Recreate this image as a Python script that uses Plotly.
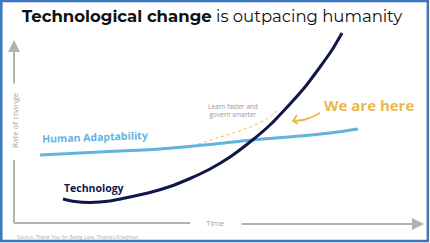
import plotly.graph_objects as go

H = 243
# Technology curve (x = time, y = rate of change)
tech_x = [63, 75, 90, 110, 130, 150, 170, 190, 210, 230, 250, 270, 290, 305, 320, 332, 342]
tech_y = [44, 41.5, 40.5, 42, 46, 50.5, 56.5, 64.5, 74, 86, 101, 118, 139, 156, 176, 193, 210]
# Human adaptability
human_x = [40, 100, 160, 215, 252, 300, 330, 358]
human_y = [88, 91, 94, 99, 103, 107, 110, 114]
# Learn faster and govern smarter (dashed)
learn_x = [198, 220, 245, 265, 277]
learn_y = [99, 106, 114, 123, 132]
# "We are here" pointer
ptr_x = [320, 312, 303, 293]
ptr_y = [130, 126, 123, 122]

NAVY = "#0f1648"
BLUE = "#62b4df"
GOLD = "#ebb84b"
GRAY = "#b3b3b3"
FONT = "Open Sans"

fig = go.Figure()
fig.add_trace(go.Scatter(x=human_x, y=human_y, mode="lines", line=dict(color=BLUE, width=3, shape="spline"), hoverinfo="skip"))
fig.add_trace(go.Scatter(x=learn_x, y=learn_y, mode="lines", line=dict(color=GOLD, width=1, dash="dot", shape="spline"), hoverinfo="skip"))
fig.add_trace(go.Scatter(x=tech_x, y=tech_y, mode="lines", line=dict(color=NAVY, width=3, shape="spline", smoothing=0.8), hoverinfo="skip"))
fig.add_trace(go.Scatter(x=ptr_x, y=ptr_y, mode="lines", line=dict(color=GOLD, width=1.8, shape="spline"), hoverinfo="skip"))

shapes = [
    dict(type="rect", xref="paper", yref="paper", x0=0.003, x1=0.995, y0=0.008, y1=0.996,
         line=dict(color="#3b77c0", width=2.5)),
    # axes
    dict(type="line", x0=14, x1=14, y0=H - 223, y1=H - 160, line=dict(color=GRAY, width=2)),
    dict(type="line", x0=14, x1=190, y0=H - 223, y1=H - 223, line=dict(color=GRAY, width=2)),
    # pointer head
    dict(type="path", path=f"M 297,{H-115} L 293,{H-121} L 298,{H-124}", line=dict(color=GOLD, width=1.8)),
]

ann = [
    dict(x=212, y=H - 16, text="<b>Technological change</b> is outpacing humanity", showarrow=False,
         font=dict(family="Montserrat, " + FONT, size=16.5, color="#111111")),
    dict(x=14, y=H - 120, text="Rate of change", textangle=-90, showarrow=False,
         font=dict(family=FONT, size=8, color="#a5a5a5")),
    dict(x=14, y=H - 40, ax=14, ay=H - 85, xref="x", yref="y", axref="x", ayref="y", text="",
         showarrow=True, arrowhead=2, arrowsize=1.2, arrowwidth=2, arrowcolor=GRAY),
    dict(x=215, y=H - 222, text="Time", showarrow=False, font=dict(family=FONT, size=8, color="#a5a5a5")),
    dict(x=424, y=H - 224, ax=240, ay=H - 224, xref="x", yref="y", axref="x", ayref="y", text="",
         showarrow=True, arrowhead=2, arrowsize=1.2, arrowwidth=2, arrowcolor=GRAY),
    dict(x=95, y=H - 137, text="<b>Human Adaptability</b>", textangle=-2, showarrow=False,
         font=dict(family=FONT, size=10.5, color=BLUE)),
    dict(x=94, y=H - 188, text="<b>Technology</b>", showarrow=False,
         font=dict(family=FONT, size=10.5, color=NAVY)),
    dict(x=233, y=H - 110.5, text="Learn faster and<br>govern smarter", showarrow=False,
         font=dict(family=FONT, size=6.5, color="#9a9a9a")),
    dict(x=369, y=H - 105, text="<b>We are here</b>", showarrow=False,
         font=dict(family=FONT, size=15, color=GOLD)),
    dict(x=15, y=H - 237, text="Source: Thank You for Being Late, Thomas Friedman", showarrow=False, xanchor="left",
         font=dict(family=FONT, size=5, color="#b0b0b0")),
]

fig.update_layout(
    width=430, height=243, margin=dict(l=0, r=0, t=0, b=0),
    paper_bgcolor="white", plot_bgcolor="white", showlegend=False,
    xaxis=dict(range=[0, 430], visible=False, fixedrange=True),
    yaxis=dict(range=[0, H], visible=False, fixedrange=True),
    shapes=shapes, annotations=ann,
)
fig.write_html("out.html", config={"displayModeBar": False})
